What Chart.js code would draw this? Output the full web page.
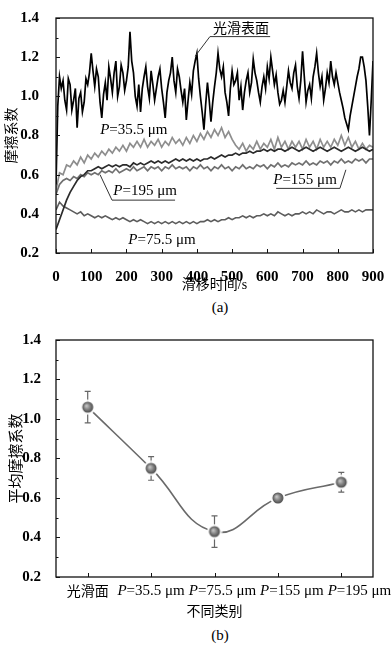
<!DOCTYPE html>
<html>
<head>
<meta charset="utf-8">
<script src="https://cdn.jsdelivr.net/npm/chart.js@4.4.0/dist/chart.umd.min.js"></script>
<style>
  body { margin:0; background:#fff; width:392px; height:646px; position:relative; overflow:hidden; }
  #boxA { position:absolute; left:0; top:0; width:392px; height:298px; }
  #boxB { position:absolute; left:0; top:320px; width:392px; height:305px; }
  .cap { position:absolute; width:40px; left:200px; text-align:center; font:15px 'Liberation Serif', serif; color:#000; }
</style>
</head>
<body>
<div id="boxA"><canvas id="chartA"></canvas></div>
<div class="cap" style="top:299px">(a)</div>
<div id="boxB"><canvas id="chartB"></canvas></div>
<div class="cap" style="top:627px">(b)</div>
<script>
// (a) friction coefficient vs sliding time
// smooth surface is read every 5 s, the textured ones every 10 s
var timeFine = [0,5,10,15,20,25,30,35,40,45,50,55,60,65,70,75,80,85,90,95,100,
  105,110,115,120,125,130,135,140,145,150,155,160,165,170,175,180,185,190,195,200,
  205,210,215,220,225,230,235,240,245,250,255,260,265,270,275,280,285,290,295,300,
  305,310,315,320,325,330,335,340,345,350,355,360,365,370,375,380,385,390,395,400,
  405,410,415,420,425,430,435,440,445,450,455,460,465,470,475,480,485,490,495,500,
  505,510,515,520,525,530,535,540,545,550,555,560,565,570,575,580,585,590,595,600,
  605,610,615,620,625,630,635,640,645,650,655,660,665,670,675,680,685,690,695,700,
  705,710,715,720,725,730,735,740,745,750,755,760,765,770,775,780,785,790,795,800,
  805,810,815,820,825,830,835,840,845,850,855,860,865,870,875,880,885,890,895,900];

var smooth = [0.55,0.95,1.10,1.04,1.08,0.98,0.93,1.09,1.06,0.93,0.98,1.04,0.84,0.99,1.02,0.92,0.97,1.09,1.06,1.12,1.22,
  1.13,1.05,1.14,1.10,0.97,0.89,1.01,1.07,0.98,1.15,1.09,1.02,1.12,1.18,1.00,1.05,1.16,1.12,1.03,1.08,
  1.15,1.33,1.18,1.12,1.00,0.95,1.06,0.92,1.04,1.10,1.15,1.05,0.99,1.13,1.06,0.98,1.04,1.10,1.14,1.04,
  0.97,0.89,1.02,1.08,1.12,1.20,1.08,1.02,1.14,1.10,1.03,0.97,1.04,0.88,0.98,1.07,1.01,1.13,1.18,1.22,
  1.09,1.00,0.92,0.83,0.96,1.07,0.98,0.87,0.97,1.05,1.12,1.22,1.14,1.10,1.15,1.02,0.97,0.90,1.04,1.13,
  1.06,1.08,1.12,0.98,1.05,0.93,1.02,1.08,1.12,1.02,1.07,1.19,1.12,1.08,1.02,0.97,1.05,1.10,1.04,1.15,
  1.09,1.20,1.13,1.06,1.11,1.02,0.96,0.98,1.03,0.97,1.05,1.13,1.07,1.04,1.12,1.16,1.05,0.99,1.08,1.23,
  1.10,0.97,1.03,1.06,0.99,1.10,1.15,1.22,1.12,1.05,1.10,0.98,1.04,1.12,1.07,1.18,1.10,1.06,1.12,1.07,
  1.02,0.98,0.94,0.89,0.86,0.83,0.90,0.95,1.00,1.05,1.10,1.14,1.20,1.20,1.15,1.08,0.95,0.80,0.98,1.18];

var time = [0,10,20,30,40,50,60,70,80,90,100,110,120,130,140,150,160,170,180,190,200,
  210,220,230,240,250,260,270,280,290,300,310,320,330,340,350,360,370,380,390,400,
  410,420,430,440,450,460,470,480,490,500,510,520,530,540,550,560,570,580,590,600,
  610,620,630,640,650,660,670,680,690,700,710,720,730,740,750,760,770,780,790,800,
  810,820,830,840,850,860,870,880,890,900];

var p35 = [0.52,0.61,0.60,0.65,0.64,0.67,0.65,0.69,0.66,0.70,0.68,0.71,0.69,0.72,0.70,0.73,0.71,0.74,0.72,0.75,0.72,
  0.76,0.74,0.77,0.74,0.78,0.74,0.77,0.75,0.78,0.74,0.77,0.75,0.79,0.76,0.78,0.75,0.79,0.76,0.80,0.77,
  0.81,0.78,0.82,0.79,0.83,0.80,0.84,0.79,0.82,0.78,0.75,0.73,0.76,0.72,0.75,0.73,0.77,0.73,0.76,0.74,
  0.78,0.73,0.79,0.74,0.77,0.73,0.77,0.74,0.77,0.73,0.78,0.74,0.77,0.73,0.78,0.74,0.77,0.74,0.78,0.75,
  0.80,0.75,0.79,0.74,0.77,0.73,0.76,0.73,0.75,0.74];

var p195 = [0.32,0.37,0.42,0.47,0.51,0.54,0.57,0.59,0.60,0.62,0.62,0.63,0.64,0.63,0.64,0.65,0.64,0.65,0.64,0.65,0.65,
  0.64,0.66,0.65,0.66,0.65,0.66,0.67,0.66,0.67,0.66,0.67,0.66,0.67,0.68,0.67,0.68,0.67,0.68,0.67,0.68,
  0.67,0.68,0.68,0.69,0.68,0.69,0.70,0.69,0.70,0.70,0.71,0.70,0.71,0.71,0.72,0.71,0.72,0.72,0.73,0.72,
  0.73,0.72,0.73,0.73,0.72,0.73,0.74,0.73,0.72,0.73,0.74,0.73,0.72,0.73,0.74,0.73,0.72,0.73,0.74,0.73,
  0.72,0.73,0.74,0.73,0.72,0.73,0.74,0.73,0.72,0.73];

var p155 = [0.50,0.55,0.57,0.58,0.57,0.59,0.58,0.60,0.59,0.61,0.60,0.61,0.60,0.62,0.61,0.62,0.61,0.63,0.61,0.62,0.63,
  0.62,0.64,0.62,0.63,0.64,0.62,0.64,0.63,0.64,0.62,0.64,0.63,0.65,0.63,0.64,0.63,0.64,0.62,0.64,0.63,
  0.65,0.63,0.64,0.62,0.64,0.63,0.65,0.63,0.64,0.62,0.64,0.63,0.65,0.63,0.64,0.63,0.65,0.64,0.65,0.63,
  0.65,0.64,0.66,0.64,0.65,0.64,0.66,0.65,0.66,0.65,0.67,0.65,0.66,0.65,0.67,0.66,0.67,0.65,0.67,0.66,
  0.68,0.66,0.67,0.66,0.68,0.67,0.68,0.66,0.68,0.68];

var p75 = [0.42,0.46,0.44,0.43,0.42,0.41,0.40,0.41,0.39,0.40,0.39,0.38,0.39,0.38,0.39,0.38,0.37,0.38,0.37,0.38,0.37,
  0.36,0.37,0.36,0.37,0.36,0.35,0.36,0.35,0.36,0.35,0.36,0.35,0.36,0.35,0.36,0.35,0.36,0.35,0.36,0.35,
  0.36,0.36,0.37,0.36,0.37,0.36,0.37,0.37,0.38,0.37,0.38,0.38,0.39,0.38,0.39,0.38,0.39,0.39,0.40,0.39,
  0.40,0.39,0.41,0.40,0.39,0.40,0.39,0.40,0.40,0.41,0.40,0.41,0.40,0.42,0.41,0.40,0.41,0.41,0.40,0.41,
  0.42,0.41,0.41,0.42,0.41,0.42,0.41,0.42,0.42,0.42];

// (b) mean friction coefficient per surface type
var kinds = ['光滑面','P=35.5 μm','P=75.5 μm','P=155 μm','P=195 μm'];
var meanMu = [1.06, 0.75, 0.43, 0.60, 0.68];
var errMu = [0.08, 0.06, 0.08, 0.02, 0.05];

var SERIF = "'Liberation Serif', 'Noto Sans CJK SC', serif";
var CJK = "'Noto Sans CJK SC', sans-serif";

function pts(ts, vals){
  return ts.map(function(t, i){ return {x: t, y: vals[i]}; });
}

function richParts(text){
  return text.indexOf('P=') === 0 ? [{s:'P', it:true},{s:text.slice(1), it:false}] : [{s:text, it:false}];
}
function richWidth(ctx, text, size){
  var fam = /[\u4e00-\u9fff]/.test(text) ? CJK : SERIF, w = 0;
  richParts(text).forEach(function(p){
    ctx.font = (p.it ? 'italic ' : '') + size + 'px ' + fam;
    w += ctx.measureText(p.s).width;
  });
  return w;
}
// text with an italic leading "P"
function drawRich(ctx, text, cx, cy, size){
  var fam = /[\u4e00-\u9fff]/.test(text) ? CJK : SERIF;
  var x = cx - richWidth(ctx, text, size)/2;
  ctx.textBaseline = 'middle'; ctx.textAlign = 'left';
  richParts(text).forEach(function(p){
    ctx.font = (p.it ? 'italic ' : '') + size + 'px ' + fam;
    ctx.fillText(p.s, x, cy); x += ctx.measureText(p.s).width;
  });
}

var frameTicks = {
  id: 'frameTicks',
  afterDraw: function(chart){
    var ctx = chart.ctx, a = chart.chartArea, xs = chart.scales.x, ys = chart.scales.y;
    ctx.save();
    ctx.strokeStyle = '#111'; ctx.lineWidth = 1.3;
    ctx.strokeRect(a.left, a.top, a.right - a.left, a.bottom - a.top);
    ctx.lineWidth = 1;
    ctx.beginPath();
    xs.ticks.forEach(function(tk, i){
      var px = Math.round(xs.getPixelForTick(i)) + 0.5;
      ctx.moveTo(px, a.bottom); ctx.lineTo(px, a.bottom - 4);
    });
    ys.ticks.forEach(function(tk, i){
      var py = Math.round(ys.getPixelForTick(i)) + 0.5;
      ctx.moveTo(a.left, py); ctx.lineTo(a.left + 4, py);
      if (i < ys.ticks.length - 1) {
        var pm = Math.round((ys.getPixelForTick(i) + ys.getPixelForTick(i+1))/2) + 0.5;
        ctx.moveTo(a.left, pm); ctx.lineTo(a.left + 2.5, pm);
      }
    });
    ctx.stroke();
    ctx.restore();
  }
};

// labels and leader lines on (a), anchored in data units
var notesA = [
  {text:'光滑表面', at:[525,1.35], line:[[437,1.305],[608,1.305]], lead:[[437,1.305],[395,1.205]]},
  {text:'P=35.5 μm', at:[221,0.83]},
  {text:'P=195 μm', at:[253,0.515], line:[[159,0.47],[338,0.47]], lead:[[159,0.47],[125,0.60]]},
  {text:'P=155 μm', at:[707,0.575], line:[[625,0.53],[806,0.53]], lead:[[806,0.53],[823,0.625]]},
  {text:'P=75.5 μm', at:[301,0.265]}
];

var notesPlugin = {
  id: 'notesA',
  afterDatasetsDraw: function(chart){
    var ctx = chart.ctx, xs = chart.scales.x, ys = chart.scales.y;
    function P(p){ return [xs.getPixelForValue(p[0]), ys.getPixelForValue(p[1])]; }
    ctx.save();
    ctx.fillStyle = '#000'; ctx.strokeStyle = '#333'; ctx.lineWidth = 1;
    notesA.forEach(function(n){
      var c = P(n.at);
      drawRich(ctx, n.text, c[0], c[1], n.text.indexOf('P=') === 0 ? 15 : 14);
      [n.line, n.lead].forEach(function(seg){
        if (!seg) return;
        var a = P(seg[0]), b = P(seg[1]);
        ctx.beginPath(); ctx.moveTo(a[0], a[1]); ctx.lineTo(b[0], b[1]); ctx.stroke();
      });
    });
    ctx.restore();
  }
};

var tickFont = {family:SERIF, size:15, weight:'bold'};

new Chart(document.getElementById('chartA'), {
  type: 'line',
  data: {
    datasets: [
      {data: pts(timeFine, smooth), borderColor:'#000', borderWidth:1.7},
      {data: pts(time, p195), borderColor:'#2b2b2b', borderWidth:1.7},
      {data: pts(time, p35), borderColor:'#8e8e8e', borderWidth:1.7},
      {data: pts(time, p155), borderColor:'#707070', borderWidth:1.7},
      {data: pts(time, p75), borderColor:'#5c5c5c', borderWidth:1.6}
    ]
  },
  options: {
    responsive: true, maintainAspectRatio: false, animation: false, devicePixelRatio: 1,
    layout: {padding: {left:0, right:19, top:13, bottom:0}},
    elements: {point: {radius:0}, line: {tension:0}},
    plugins: {legend: {display:false}, tooltip: {enabled:false}},
    scales: {
      x: {
        type:'linear', min:0, max:900,
        grid: {display:false}, border: {display:false},
        ticks: {stepSize:100, padding:7, color:'#000', font:tickFont},
        title: {display:true, text:'滑移时间/s', color:'#000', font:{family:SERIF, size:14}, padding:{top:0, bottom:4}},
        afterFit: function(s){ s.height = 45; }
      },
      y: {
        min:0.2, max:1.4,
        grid: {display:false}, border: {display:false},
        ticks: {stepSize:0.2, padding:9, color:'#000', font:tickFont,
          callback: function(v){ return v.toFixed(1); }},
        title: {display:true, text:'摩擦系数', color:'#000', font:{family:SERIF, size:14}, padding:{top:4, bottom:0}},
        afterFit: function(s){ s.width = 56; }
      }
    }
  },
  plugins: [frameTicks, notesPlugin]
});

// grey sphere marker with a white rim
function makeBall(){
  var c = document.createElement('canvas'); c.width = 16; c.height = 16;
  var g = c.getContext('2d');
  g.fillStyle = '#fff'; g.beginPath(); g.arc(8, 8, 7.5, 0, Math.PI*2); g.fill();
  var grd = g.createRadialGradient(6.6, 6.6, 0.5, 8, 8, 5.6);
  grd.addColorStop(0, '#c4c4c4'); grd.addColorStop(0.55, '#7c7c7c'); grd.addColorStop(1, '#4a4a4a');
  g.fillStyle = grd; g.beginPath(); g.arc(8, 8, 5.5, 0, Math.PI*2); g.fill();
  return c;
}

var errorBars = {
  id: 'errorBars',
  beforeDatasetsDraw: function(chart){
    var ctx = chart.ctx, ys = chart.scales.y, meta = chart.getDatasetMeta(0);
    ctx.save();
    ctx.strokeStyle = '#666'; ctx.lineWidth = 1.2;
    meta.data.forEach(function(pt, i){
      var x = pt.x, hi = ys.getPixelForValue(meanMu[i] + errMu[i]), lo = ys.getPixelForValue(meanMu[i] - errMu[i]);
      ctx.beginPath();
      ctx.moveTo(x, hi); ctx.lineTo(x, lo);
      ctx.moveTo(x - 3, hi); ctx.lineTo(x + 3, hi);
      ctx.moveTo(x - 3, lo); ctx.lineTo(x + 3, lo);
      ctx.stroke();
    });
    ctx.restore();
  }
};

// category labels centred on their ticks, pushed right where they would collide
var kindLabels = {
  id: 'kindLabels',
  afterDraw: function(chart){
    var ctx = chart.ctx, xs = chart.scales.x, a = chart.chartArea;
    ctx.save(); ctx.fillStyle = '#000';
    var lastRight = -1e9;
    kinds.forEach(function(k, i){
      var size = /[\u4e00-\u9fff]/.test(k) ? 14 : 15;
      var w = richWidth(ctx, k, size);
      var cx = xs.getPixelForTick(i);
      if (cx - w/2 < lastRight + 4) cx = lastRight + 4 + w/2;
      lastRight = cx + w/2;
      drawRich(ctx, k, cx, a.bottom + 14, size);
    });
    ctx.restore();
  }
};

new Chart(document.getElementById('chartB'), {
  type: 'line',
  data: {
    labels: kinds,
    datasets: [{
      data: meanMu, borderColor:'#6a6a6a', borderWidth:1.6, tension:0.45,
      pointStyle: makeBall(), pointRadius:6
    }]
  },
  options: {
    responsive: true, maintainAspectRatio: false, animation: false, devicePixelRatio: 1,
    layout: {padding: {left:0, right:19, top:20, bottom:0}},
    plugins: {legend: {display:false}, tooltip: {enabled:false}},
    scales: {
      x: {
        type:'category', offset:true,
        grid: {display:false}, border: {display:false},
        ticks: {display:false},
        title: {display:true, text:'不同类别', color:'#000', font:{family:SERIF, size:14}, padding:{top:0, bottom:4}},
        afterFit: function(s){ s.height = 48; }
      },
      y: {
        min:0.2, max:1.4,
        grid: {display:false}, border: {display:false},
        ticks: {stepSize:0.2, padding:7, color:'#000', font:tickFont,
          callback: function(v){ return v.toFixed(1); }},
        title: {display:true, text:'平均摩擦系数', color:'#000', font:{family:SERIF, size:15}, padding:{top:8, bottom:0}},
        afterFit: function(s){ s.width = 56; }
      }
    }
  },
  plugins: [frameTicks, errorBars, kindLabels]
});
</script>
</body>
</html>
